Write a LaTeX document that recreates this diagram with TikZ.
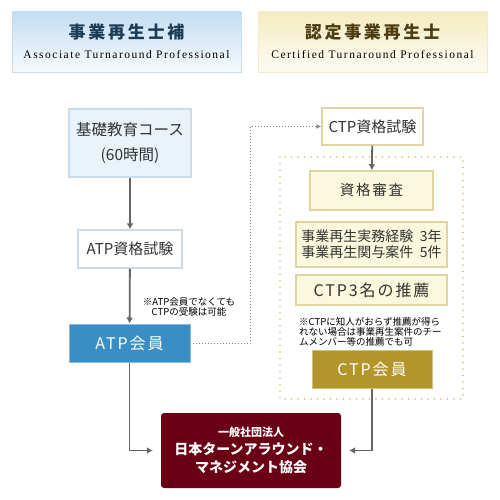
\documentclass[tikz,border=0pt]{standalone}
\usepackage{fontspec}
\setmainfont{Noto Sans CJK JP}
\newfontfamily\enfont[LetterSpace=13]{Liberation Serif}
\newfontfamily\jptitle[LetterSpace=16]{Noto Sans CJK JP}
\newfontfamily\jpspaced[LetterSpace=12]{Noto Sans CJK JP}
\usetikzlibrary{arrows.meta}
\definecolor{hdrblue}{HTML}{C3DEF3}
\definecolor{hdrgold}{HTML}{F4ECC2}
\definecolor{ttlblue}{HTML}{1C3D55}
\definecolor{ttlgold}{HTML}{4D3C12}
\definecolor{atpblue}{HTML}{3A8EC4}
\definecolor{ctpgold}{HTML}{B3962B}
\definecolor{jtmared}{HTML}{6A0014}
\definecolor{paleblue}{HTML}{EAF3FA}
\definecolor{lineblue}{HTML}{C8DCEC}
\definecolor{cream}{HTML}{FCF8DE}
\definecolor{linegold}{HTML}{E0D5A2}
\definecolor{dotgold}{HTML}{D9B86C}
\definecolor{arrgray}{HTML}{666666}
\definecolor{txtgray}{HTML}{333333}

\begin{document}
\begin{tikzpicture}[x=1pt,y=-1pt,
  box/.style={draw=#1,line width=1.5pt,inner sep=0pt,align=center,text=txtgray,font=\fontsize{15}{19}\selectfont},
  arr/.style={draw=arrgray,line width=1.8pt,-{Latex[length=6pt,width=7pt]}},
  link/.style={draw=arrgray!80,line width=1pt,dash pattern=on 1pt off 2pt},
  note/.style={font=\fontsize{9.5}{10}\selectfont,text=black,inner sep=0pt}]
\useasboundingbox (0,0) rectangle (500,500);
% headers
\shade[top color=hdrblue,bottom color=hdrblue!15!white,draw=lineblue] (12,12) rectangle (241,72);
\shade[top color=hdrgold,bottom color=hdrgold!20!white,draw=hdrgold] (258,12) rectangle (487,72);
\node[font=\jptitle\bfseries\fontsize{17}{17}\selectfont,text=ttlblue] (ttlatp) at (126.5,32) {事業再生士補};
\node[font=\enfont\fontsize{11.5}{11.5}\selectfont] (enatp) at (126.5,55) {Associate Turnaround Professional};
\node[font=\jptitle\bfseries\fontsize{17}{17}\selectfont,text=ttlgold] (ttlctp) at (372.5,32) {認定事業再生士};
\node[font=\enfont\fontsize{11.5}{11.5}\selectfont] (enctp) at (372.5,55) {Certified Turnaround Professional};
% left column
\node[box=lineblue,fill=paleblue,minimum width=122pt,minimum height=68pt,font=\fontsize{15.5}{25}\selectfont] (kiso) at (130,143) {基礎教育コース\\(60時間)};
\node[box=lineblue,fill=white,minimum width=104pt,minimum height=38pt] (atpexam) at (130,249) {ATP資格試験};
\node[box=atpblue!60!white,line width=1pt,fill=atpblue,text=white,minimum width=121pt,minimum height=38pt,font=\jpspaced\fontsize{16}{19}\selectfont] (atpmem) at (129.5,343) {ATP会員};
\node[note,align=center] (noteatp) at (189,307) {※ATP会員でなくても\\CTPの受験は可能};
% right column
\draw[dotgold,line width=1.6pt,dash pattern=on 0pt off 6.5pt,line cap=round] (280,157) rectangle (463,399);
\node[box=linegold,fill=white,minimum width=101pt,minimum height=37pt] (ctpexam) at (372.5,126.5) {CTP資格試験};
\node[box=linegold,fill=cream,minimum width=123pt,minimum height=39pt,font=\jpspaced\fontsize{14.5}{19}\selectfont] (shinsa) at (371.5,190.5) {資格審査};
\node[box=linegold,fill=cream,minimum width=151pt,minimum height=45pt,font=\fontsize{14}{16}\selectfont] (keiken) at (371.5,244.5) {事業再生実務経験\ \ 3年\\事業再生関与案件\ \ 5件};
\node[box=linegold,fill=cream,minimum width=151pt,minimum height=30pt,font=\jpspaced\fontsize{16}{19}\selectfont] (suisen) at (371.5,290) {CTP3名の推薦};
\node[note,align=left,anchor=west] (notectp) at (299,332) {※CTPに知人がおらず推薦が得ら\\れない場合は事業再生案件のチー\\ムメンバー等の推薦でも可};
\node[box=ctpgold!60!white,line width=1pt,fill=ctpgold,text=white,minimum width=120pt,minimum height=38pt,font=\jpspaced\fontsize{16}{19}\selectfont] (ctpmem) at (372,369) {CTP会員};
% association
\node[fill=jtmared,rounded corners=3pt,text=white,minimum width=180pt,minimum height=75pt,align=center,font=\bfseries\fontsize{14}{18}\selectfont] (jtma) at (251,450.5) {{\fontsize{11}{18}\selectfont 一般社団法人}\\日本ターンアラウンド・\\マネジメント協会};
% connectors
\draw[arr] (kiso) -- (atpexam);
\draw[arr] (atpexam) -- (atpmem);
\draw[arr] (ctpexam) -- (shinsa);
\draw[arr,shorten >=8pt] (atpmem.south) |- (jtma.west);
\draw[arr,shorten >=8pt] (ctpmem.south) |- (jtma.east);
\coordinate (bend) at (250,343);
\draw[link,-{Latex[length=5pt,width=5pt]}] ([xshift=2pt]atpmem.east) -- (bend) |- (ctpexam.west);
\end{tikzpicture}
\end{document}
